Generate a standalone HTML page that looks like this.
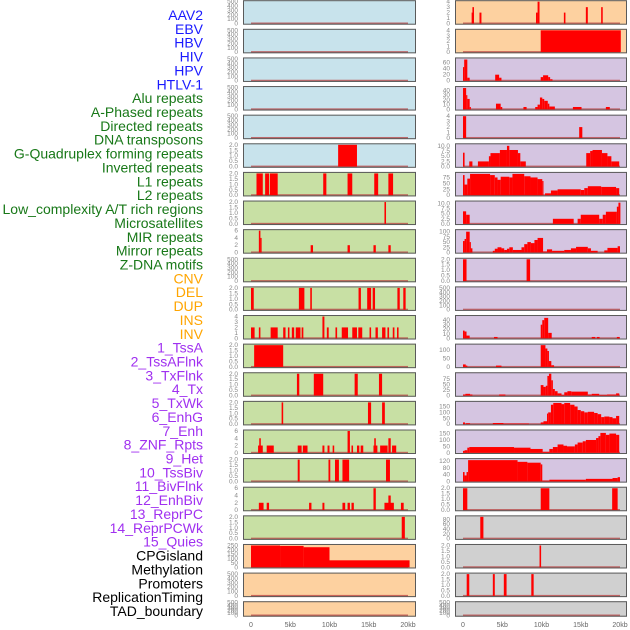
<!DOCTYPE html>
<html><head><meta charset="utf-8"><style>
html,body{margin:0;padding:0;background:#fff;width:630px;height:630px;overflow:hidden}
svg{display:block;font-family:"Liberation Sans",sans-serif}
</style></head><body>
<svg id="chart" width="630" height="630" viewBox="0 0 630 630"></svg>
<script>
const labelNames=["AAV2","EBV","HBV","HIV","HPV","HTLV-1","Alu repeats","A-Phased repeats","Directed repeats","DNA transposons","G-Quadruplex forming repeats","Inverted repeats","L1 repeats","L2 repeats","Low_complexity A/T rich regions","Microsatellites","MIR repeats","Mirror repeats","Z-DNA motifs","CNV","DEL","DUP","INS","INV","1_TssA","2_TssAFlnk","3_TxFlnk","4_Tx","5_TxWk","6_EnhG","7_Enh","8_ZNF_Rpts","9_Het","10_TssBiv","11_BivFlnk","12_EnhBiv","13_ReprPC","14_ReprPCWk","15_Quies","CPGisland","Methylation","Promoters","ReplicationTiming","TAD_boundary"];
const labelGroups=[6,13,5,15,5];
const groupColors=["#1a1aff","#187818","#ffa500","#a030f0","#000000"];
const xTickLabels=["0","5kb","10kb","15kb","20kb"];
const xTickValues=[0,5,10,15,20];
const T500=["0","100","200","300","400","500"],T2=["0.0","0.5","1.0","1.5","2.0"],T6=["0","2","4","6"],T4=["0","1","2","3","4"],T10=["0.0","2.5","5.0","7.5","10.0"];
// left column tracks (rows 0-21)
const leftYmax=[500,500,500,500,500,2,2,2,6,500,2,4,2,2,2,6,2,6,2,250,500,500];
const leftTicks=[T500,T500,T500,T500,T500,T2,T2,T2,T6,T500,T2,T4,T2,T2,T2,T6,T2,T6,T2,["0","50","100","150","200","250"],T500,T500];
const leftBg=["b","b","b","b","b","b","g","g","g","g","g","g","g","g","g","g","g","g","g","o","o","o"];
const leftBars=[[],[],[],[],[],
[[11.1,13.5,2]],
[[0.7,1.5,2],[1.8,2.3,2],[2.4,3.4,2],[9.2,9.6,2],[12.3,12.9,2],[15.7,16.2,2],[17.5,18.1,2]],
[[17.0,17.2,2]],
[[1.0,1.2,6],[1.2,1.35,4],[7.6,7.9,2],[12.3,12.6,2],[15.6,15.9,2],[17.5,17.8,2]],
[],
[[0,0.35,2],[6.1,6.8,2],[7.55,7.75,2],[13.7,14.0,2],[14.8,15.3,2],[15.5,15.8,2],[18.65,18.95,2],[19.4,19.7,2]],
[[0,0.46,2],[1.0,1.2,2],[2.5,3.4,2],[4.1,4.4,2],[4.7,4.9,2],[5.2,5.5,2],[5.7,6.3,2],[6.45,6.67,2],[9.1,9.35,4],[9.66,9.9,2],[10.76,10.97,2],[11.56,12.36,2],[12.9,13.5,2],[13.67,14.17,2],[15.1,15.3,2],[15.86,16.16,2],[16.7,17.13,2],[17.38,17.59,2],[18.06,18.27,2],[18.6,18.8,2]],
[[0.4,4.1,2]],
[[5.85,6.15,2],[8.0,9.2,2],[13.2,13.6,2],[16.3,16.7,2]],
[[3.9,4.1,2],[14.9,15.3,2],[16.7,17.05,2]],
[[0.9,1.5,2],[1.05,1.25,4],[2.0,2.9,2],[5.95,6.45,2],[6.6,7.2,2],[9.1,9.35,2],[9.75,10.0,2],[10.4,10.6,2],[12.3,12.6,6],[12.8,13.0,2],[13.5,13.8,2],[13.97,14.3,2],[15.6,16.1,2],[15.7,15.9,4],[16.45,17.4,2],[17.5,17.8,4],[17.97,18.5,2]],
[[5.95,6.2,2],[9.87,10.1,2],[10.7,11.2,2],[11.65,12.5,2],[17.2,17.7,2]],
[[1.0,1.6,2],[2.0,2.3,2],[7.4,7.7,2],[9.1,9.35,2],[11.65,12.0,2],[12.3,12.6,2],[12.8,13.1,2],[15.6,15.9,6],[17.0,18.2,2],[17.5,17.8,4],[19.1,19.45,2]],
[[19.2,19.6,2]],
[[0,3.7,250],[3.7,6.7,245],[6.7,10,230],[10,20.2,80]],
[],[]];
// right column tracks (rows 0-21)
const rightYmax=[4,4,72,46,4,10.5,92,10.8,105,2,500,48,130,100,185,170,128,2,90,2,2,500];
const rightTicks=[T4,T4,["0","20","40","60"],["0","10","20","30","40"],T4,T10,["0","25","50","75"],T10,["0","25","50","75","100"],T2,T500,["0","10","20","30","40"],["0","50","100"],["0","25","50","75"],["0","50","100","150"],["0","50","100","150"],["0","40","80","120"],T2,["0","20","40","60","80"],T2,T2,T500];
const rightBg=["o","o","p","p","p","p","p","p","p","p","p","p","p","p","p","p","p","y","y","y","y","y"];
const rightBars=[
[[1.1,1.3,2],[1.2,1.4,3],[2.1,2.35,2],[9.3,9.5,2],[9.5,9.75,4],[12.85,13.05,2],[15.65,15.9,3],[17.6,17.8,3]],
[[9.9,20.1,4]],
[[0,0.15,45],[0.15,0.55,70],[0.55,0.85,10],[4.1,4.6,20],[4.6,4.9,10],[9.9,10.2,12],[10.2,10.85,18],[10.85,11.1,12],[11.1,11.4,5]],
[[0,0.4,45],[0.4,0.55,30],[0.55,0.85,22],[0.85,1.0,5],[4.2,4.8,12],[4.8,5.0,5],[7.7,8.1,5],[9.2,9.5,5],[9.5,9.8,10],[9.8,10.1,25],[10.1,10.35,22],[10.35,10.8,18],[10.8,11.0,12],[11.0,11.7,6],[14.0,15.1,5],[18.2,18.7,5]],
[[0,0.4,4],[14.8,15.2,2]],
[[0,0.2,6.7],[0.8,1.2,2.5],[1.9,3.3,2.5],[3.3,3.5,5],[3.5,4.7,6.5],[4.7,5.6,8],[5.6,5.9,10],[5.9,7.0,8],[7.0,7.3,6.5],[7.3,8.0,2.5],[15.7,16.2,6.5],[16.2,16.5,7.5],[16.5,17.7,8],[17.7,18.4,6.5],[18.4,18.9,5],[18.9,19.9,2.5]],
[[0,0.2,85],[0.2,0.55,45],[0.55,0.9,70],[0.9,3.45,90],[3.45,4.05,85],[4.05,4.4,75],[4.4,4.8,65],[4.8,5.9,78],[5.9,6.3,75],[6.3,7.8,90],[7.8,8.6,80],[8.6,9.5,75],[9.5,10.1,68],[10.1,10.25,60],[10.45,11.2,8],[11.2,12.05,20],[12.05,15.0,25],[15.0,15.45,22],[15.45,15.9,30],[15.9,17.6,38],[17.6,19.5,35],[19.5,19.9,30]],
[[0,0.4,6.2],[0.4,0.85,4.5],[11.45,14.1,2.5],[14.6,15.0,2.5],[15.0,17.35,4.5],[17.35,17.8,2.5],[17.8,18.2,4.5],[18.2,19.6,6],[19.6,19.8,8.5],[19.8,20.05,10.5]],
[[0,0.2,55],[0.2,0.4,65],[0.4,0.85,100],[0.85,0.98,50],[0.98,1.2,20],[3.8,4.05,8],[4.05,4.4,18],[4.4,4.9,25],[4.9,5.25,20],[5.25,5.6,12],[5.6,5.9,18],[5.9,6.35,25],[6.35,7.45,12],[7.45,7.8,25],[7.8,8.2,40],[8.2,8.65,50],[8.65,9.1,45],[9.1,9.5,60],[9.5,10.2,70],[10.2,10.7,5],[10.7,11.35,15],[11.35,12.9,8],[12.9,13.75,12],[13.75,14.4,20],[14.4,15.9,27],[15.9,16.3,20],[16.3,17.15,8],[18.0,18.4,10],[18.4,19.7,22],[19.7,20.0,30]],
[[0,0.45,2],[8.1,8.55,2]],
[],
[[0,0.2,17],[0.2,0.45,15],[0.45,0.85,6],[3.95,4.4,3],[9.9,10.1,30],[10.1,10.35,40],[10.35,10.85,45],[10.85,11.3,12],[16.4,16.85,3],[17.05,17.4,3],[19.6,19.95,3]],
[[0,0.35,15],[0.35,0.55,8],[4.2,4.9,8],[9.9,10.5,130],[10.5,10.75,110],[10.75,10.95,95],[10.95,11.25,35],[11.25,11.6,10]],
[[0,0.3,5],[0.3,0.9,8],[0.9,1.2,5],[4.6,5.4,5],[9.9,10.25,48],[10.25,10.55,40],[10.55,10.75,45],[10.75,10.95,90],[10.95,11.25,100],[11.25,11.45,70],[11.45,11.7,30],[11.7,12.05,20],[12.05,12.55,10],[12.55,12.9,3],[12.9,13.3,15],[13.3,13.8,20],[13.8,15.9,18],[15.9,16.4,5],[16.4,17.35,8],[17.35,18.35,3],[18.35,19.5,5],[19.5,19.9,10]],
[[0,0.25,15],[0.35,0.9,8],[3.8,5.15,10],[5.15,8.4,5],[9.9,10.25,15],[10.25,10.7,25],[10.7,10.85,90],[10.85,11.2,100],[11.2,11.5,165],[11.5,12.55,180],[12.55,12.9,170],[12.9,13.65,180],[13.65,14.2,165],[14.2,14.6,150],[14.6,15.0,120],[15.0,15.45,110],[15.45,15.9,100],[15.9,16.7,105],[16.7,17.15,95],[17.15,17.6,85],[17.6,18.0,60],[18.0,18.65,65],[18.65,19.05,60],[19.05,19.5,50],[19.5,19.9,70]],
[[0,0.2,15],[0.2,0.55,20],[0.55,0.8,40],[0.8,6.5,45],[6.5,8.6,40],[8.6,10.15,30],[10.15,11.0,8],[11.0,11.45,30],[11.45,12.05,45],[12.05,12.8,65],[12.8,13.25,55],[13.25,14.25,50],[14.25,14.6,65],[14.6,15.25,80],[15.25,15.65,90],[15.65,16.95,100],[16.95,17.25,115],[17.25,17.5,130],[17.5,18.2,155],[18.2,18.65,140],[18.65,19.5,150],[19.5,19.9,140]],
[[0,0.2,55],[0.2,0.45,35],[0.45,0.65,55],[0.65,6.95,125],[6.95,8.2,115],[8.2,9.9,110],[9.9,10.1,100],[10.1,11.0,5],[11.0,15.65,10],[15.65,19.05,15],[19.05,19.7,20],[19.7,20.0,25]],
[[0,0.55,2],[9.9,11.0,2],[19.0,19.7,2]],
[[2.2,2.6,90]],
[[9.75,9.95,2]],
[[0.47,0.8,2],[3.8,4.05,2],[5.2,5.55,2],[8.7,9.0,2]],
[]];

const NS="http://www.w3.org/2000/svg";
const svg=document.getElementById('chart');
const bgColors={b:"#c8e3ec",g:"#c8e0a4",o:"#fdd1a0",p:"#d5c5e1",y:"#d0d0d0"};
const colX=[{box:243,w:173,x0:251,tick:238},{box:455,w:172,x0:463,tick:450}];
const kbScale=7.85;
function xPos(c,kb){return colX[c].x0+kb*kbScale;}
function rowTop(r){return 0.2+r*28.62;}
function rowH(r){return r===21?15.5:24.5;}
function yPos(r,v,ymax){const t=rowTop(r)+1.5,b=rowTop(r)+rowH(r)-1.2;return b-(v/ymax)*(b-t);}
function mk(tag,attrs){const e=document.createElementNS(NS,tag);for(const k in attrs)e.setAttribute(k,attrs[k]);return e;}

// labels
let li=0;
labelGroups.forEach((n,g)=>{for(let i=0;i<n;i++){
  const t=mk('text',{x:203,y:15+li*13.86+5,'text-anchor':'end','font-size':'14',fill:groupColors[g]});
  t.textContent=labelNames[li];
  
  
  svg.appendChild(t);li++;}});

function drawCol(c,ymaxArr,tickArr,bgArr,barsArr){
  for(let r=0;r<22;r++){
    const top=rowTop(r),h=rowH(r),ymax=ymaxArr[r];
    const g=mk('g',{});
    
    
    svg.appendChild(g);
    const bg=mk('rect',{x:colX[c].box,y:top,width:colX[c].w,height:h,fill:bgColors[bgArr[r]]});
    
    
    g.appendChild(bg);
    const base=mk('rect',{x:xPos(c,0),y:top+h-2.2,width:xPos(c,20)-xPos(c,0),height:1.6,fill:"#b84040",opacity:0.75});
    
    
    g.appendChild(base);
    barsArr[r].forEach(b=>{
      const y=yPos(r,Math.min(b[2],ymax),ymax);
      const rc=mk('rect',{x:xPos(c,b[0]),y:y,width:Math.max(1.2,xPos(c,b[1])-xPos(c,b[0])),height:top+h-1.2-y,fill:"#ff0000"});
      
      
      g.appendChild(rc);
    });
    const bd=mk('rect',{x:colX[c].box+0.5,y:top+0.5,width:colX[c].w-1,height:h-1,fill:"none",stroke:"#5a5a5a","stroke-width":1});
    
    
    g.appendChild(bd);
    const ticks=tickArr[r],n=ticks.length;
    ticks.forEach((lab,i)=>{
      const v=ymax===500?i*100:parseFloat(lab);
      const t=mk('text',{x:colX[c].tick,y:yPos(r,v,ymax)+2,'text-anchor':'end','font-size':'6.5',fill:"#888"});
      t.textContent=lab;
      
      
      g.appendChild(t);
    });
  }
  xTickValues.forEach((v,i)=>{
    const t=mk('text',{x:xPos(c,v),y:627,'text-anchor':'middle','font-size':'7',fill:"#666"});
    t.textContent=xTickLabels[i];
    
    
    svg.appendChild(t);
  });
}
drawCol(0,leftYmax,leftTicks,leftBg,leftBars);
drawCol(1,rightYmax,rightTicks,rightBg,rightBars);
</script>
</body></html>
